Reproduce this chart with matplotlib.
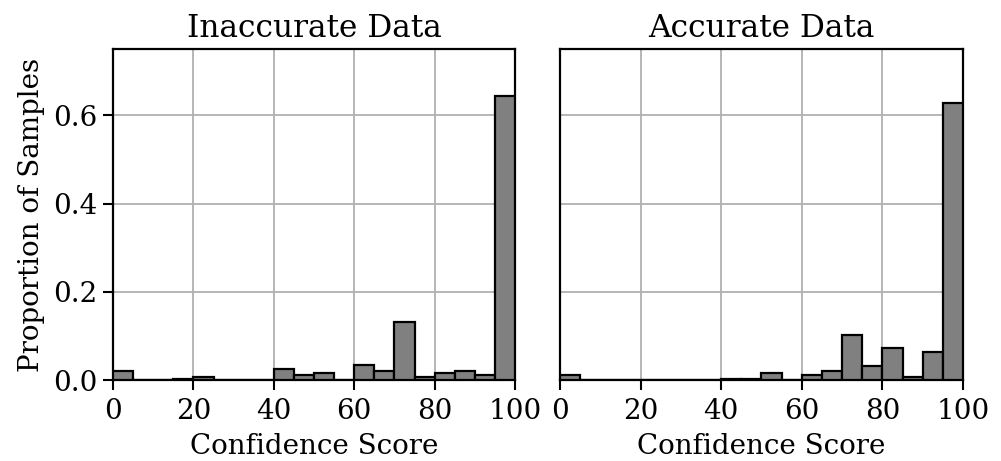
import matplotlib
matplotlib.use("Agg")
import matplotlib.pyplot as plt
import numpy as np

# bin edges for confidence score histograms (width 5)
bin_edges = np.arange(0, 101, 5)

# proportion of samples per bin
inaccurate = [0.021, 0.0, 0.0, 0.003, 0.007, 0.0, 0.0, 0.0,
              0.025, 0.011, 0.016, 0.0, 0.034, 0.021, 0.132, 0.006,
              0.015, 0.021, 0.011, 0.643]
accurate = [0.011, 0.0, 0.0, 0.0, 0.0, 0.0, 0.0, 0.0,
            0.003, 0.003, 0.016, 0.0, 0.011, 0.020, 0.103, 0.032,
            0.072, 0.007, 0.063, 0.628]

titles = ["Inaccurate Data", "Accurate Data"]
series = [inaccurate, accurate]

plt.rcParams["font.family"] = "DejaVu Serif"

fig = plt.figure(figsize=(10.01, 4.61), dpi=100)
axes = [fig.add_axes([0.1129, 0.1757, 0.4016, 0.7178]),
        fig.add_axes([0.5594, 0.1757, 0.4026, 0.7178])]

for i, (ax, vals, title) in enumerate(zip(axes, series, titles)):
    ax.hist(bin_edges[:-1], bins=bin_edges, weights=vals,
            color="#808080", edgecolor="black", linewidth=1.6, zorder=3)
    ax.set_xlim(0, 100)
    ax.set_ylim(0, 0.75)
    ax.set_xticks([0, 20, 40, 60, 80, 100])
    ax.set_yticks([0.0, 0.2, 0.4, 0.6])
    ax.grid(True, color="#b0b0b0", linewidth=1.3, zorder=0)
    ax.set_axisbelow(True)
    for s in ax.spines.values():
        s.set_linewidth(1.6)
    ax.tick_params(labelsize=20, length=7, width=1.5, pad=4)
    ax.tick_params(axis="x", pad=6)
    ax.set_title(title, fontsize=22.5, pad=9)
    ax.set_xlabel("Confidence Score", fontsize=20, labelpad=6)
    if i == 0:
        ax.set_ylabel("Proportion of Samples", fontsize=20, labelpad=6)
    else:
        ax.tick_params(axis="y", left=False, labelleft=False)

fig.savefig("out.png", dpi=100)
